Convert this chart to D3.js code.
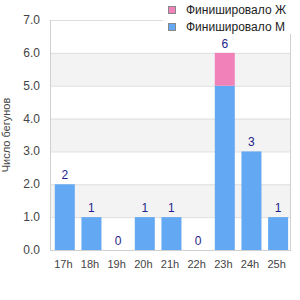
<!DOCTYPE html>
<html lang="ru">
<head>
  <meta charset="UTF-8">
  <title>Chart</title>
  <style>
    * { padding: 0; margin: 0; }
    body { background: #fff; }
    svg { font-family: "Liberation Sans", Arial, sans-serif; display: block; }
  </style>
</head>
<body>
  <svg id="svg"></svg>
  <script src="https://cdnjs.cloudflare.com/ajax/libs/d3/7.8.5/d3.min.js"></script>
  <script>
    const categories = ['17h', '18h', '19h', '20h', '21h', '22h', '23h', '24h', '25h'];
    const finishedM = [2, 1, 0, 1, 1, 0, 5, 3, 1];
    const finishedF = [0, 0, 0, 0, 0, 0, 1, 0, 0];
    const yTicks = [0, 1, 2, 3, 4, 5, 6, 7];
    const seriesNames = ['Финишировало Ж', 'Финишировало М'];
    const yTitle = 'Число бегунов';

    const dim = { width: 300, height: 300, left: 50, right: 290, top: 20, bottom: 250 };
    const colors = { m: '#62a8f2', f: '#f182b9', label: '#1e1e8c', tick: '#444', grid: '#dedede', band: '#f3f3f3', axis: '#d0d0d0' };

    const svg = d3.select('#svg')
      .attr('width', dim.width)
      .attr('height', dim.height);

    const x = d3.scaleBand()
      .domain(categories)
      .range([dim.left, dim.right]);

    const y = d3.scaleLinear()
      .domain([0, 7])
      .range([dim.bottom, dim.top]);

    // alternating bands
    svg.append('g')
      .selectAll('rect')
      .data(yTicks.filter(t => t % 2 === 1 && t < 7))
      .join('rect')
      .attr('x', dim.left)
      .attr('width', dim.right - dim.left)
      .attr('y', d => y(d + 1))
      .attr('height', d => y(d) - y(d + 1))
      .attr('fill', colors.band);

    // grid lines
    svg.append('g')
      .selectAll('line')
      .data(yTicks.slice(1))
      .join('line')
      .attr('x1', dim.left)
      .attr('x2', dim.right)
      .attr('y1', d => y(d) + 0.5)
      .attr('y2', d => y(d) + 0.5)
      .attr('stroke', colors.grid);

    // bars
    const barW = x.bandwidth() * 0.75;
    const barOff = x.bandwidth() * 0.18;
    const data = categories.map((c, i) => ({ c, m: finishedM[i], f: finishedF[i] }));

    svg.append('g')
      .selectAll('rect')
      .data(data)
      .join('rect')
      .attr('x', d => x(d.c) + barOff)
      .attr('width', barW)
      .attr('y', d => y(d.m))
      .attr('height', d => y(0) - y(d.m))
      .attr('fill', colors.m);

    svg.append('g')
      .selectAll('rect')
      .data(data.filter(d => d.f > 0))
      .join('rect')
      .attr('x', d => x(d.c) + barOff)
      .attr('width', barW)
      .attr('y', d => y(d.m + d.f))
      .attr('height', d => y(d.m) - y(d.m + d.f))
      .attr('fill', colors.f);

    // value labels
    svg.append('g')
      .selectAll('text')
      .data(data)
      .join('text')
      .attr('x', d => x(d.c) + barOff + barW / 2)
      .attr('y', d => y(d.m + d.f) - 5)
      .attr('text-anchor', 'middle')
      .attr('font-size', 12)
      .attr('fill', colors.label)
      .text(d => d.m + d.f);

    // axis frame
    const frame = svg.append('g').attr('stroke', colors.axis).attr('fill', 'none');
    frame.append('line').attr('x1', dim.left + 0.5).attr('x2', dim.left + 0.5).attr('y1', dim.top).attr('y2', dim.bottom + 1);
    frame.append('line').attr('x1', dim.right + 0.5).attr('x2', dim.right + 0.5).attr('y1', dim.top).attr('y2', dim.bottom + 1);
    frame.append('line').attr('x1', dim.left).attr('x2', dim.right + 1).attr('y1', dim.bottom + 0.5).attr('y2', dim.bottom + 0.5);

    // y tick labels
    svg.append('g')
      .selectAll('text')
      .data(yTicks)
      .join('text')
      .attr('x', 40)
      .attr('y', d => y(d) + 4)
      .attr('text-anchor', 'end')
      .attr('font-size', 12)
      .attr('fill', colors.tick)
      .text(d => d3.format('.1f')(d));

    // x tick labels
    svg.append('g')
      .selectAll('text')
      .data(categories)
      .join('text')
      .attr('x', d => x(d) + x.bandwidth() / 2)
      .attr('y', 268)
      .attr('text-anchor', 'middle')
      .attr('font-size', 11)
      .attr('fill', colors.tick)
      .text(d => d);

    // y title
    svg.append('text')
      .attr('transform', `translate(10, ${(dim.top + dim.bottom) / 2}) rotate(-90)`)
      .attr('text-anchor', 'middle')
      .attr('font-size', 11)
      .attr('fill', colors.tick)
      .text(yTitle);

    // legend
    const legend = svg.append('g');
    legend.append('rect')
      .attr('x', 163).attr('y', 0).attr('width', 137).attr('height', 34)
      .attr('fill', '#fff');
    const items = legend.selectAll('g')
      .data(seriesNames)
      .join('g')
      .attr('transform', (d, i) => `translate(168, ${6 + i * 17})`);
    items.append('rect')
      .attr('x', 0.5).attr('y', 0.5).attr('width', 7).attr('height', 7)
      .attr('fill', (d, i) => i === 0 ? colors.f : colors.m)
      .attr('stroke', '#888');
    items.append('text')
      .attr('x', 18)
      .attr('y', 8)
      .attr('font-size', 12)
      .attr('fill', '#222')
      .text(d => d);
  </script>
</body>
</html>
